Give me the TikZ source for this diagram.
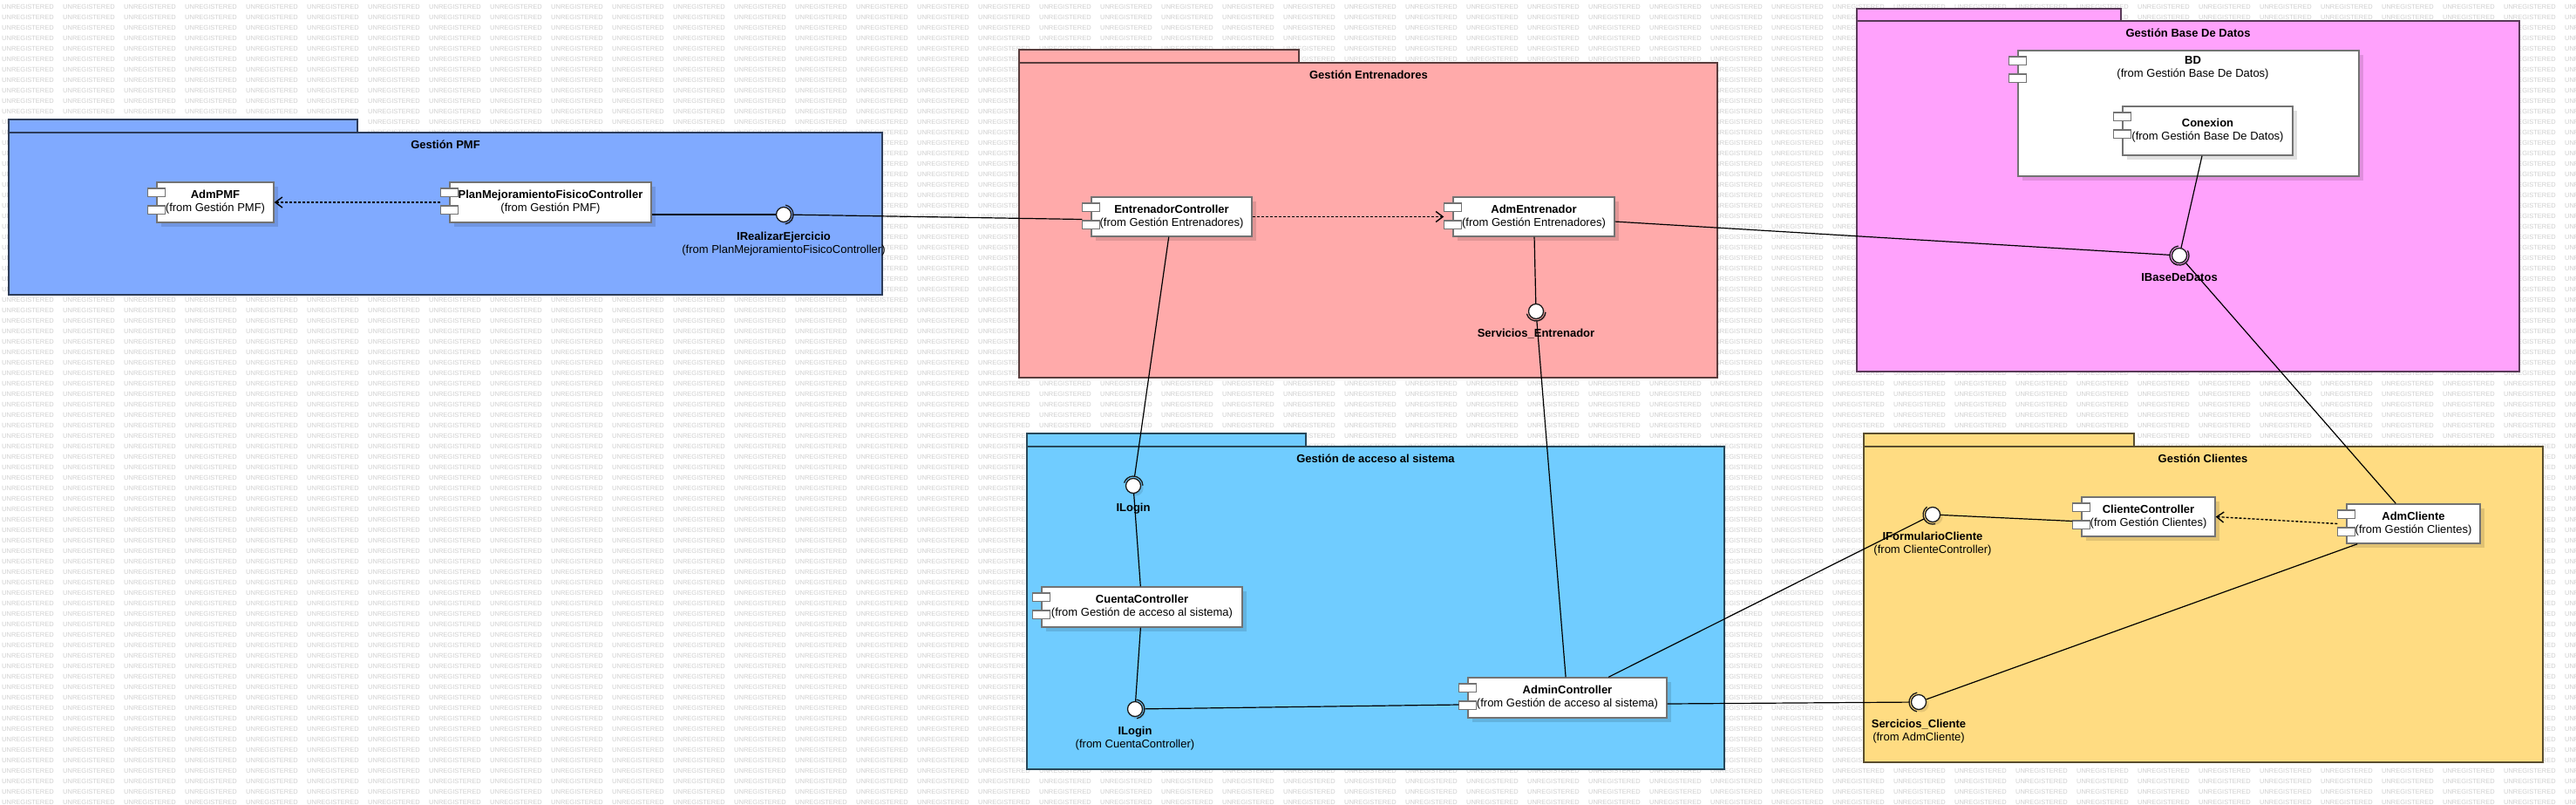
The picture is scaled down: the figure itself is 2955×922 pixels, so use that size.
\documentclass[tikz,border=0pt]{standalone}
\usepackage{fontspec}
\setmainfont{Liberation Sans}
\usetikzlibrary{positioning,calc,arrows.meta,shadows}
\definecolor{PmfBlue}{RGB}{128,170,255}
\definecolor{EntRed}{RGB}{255,170,170}
\definecolor{BdPink}{RGB}{255,162,252}
\definecolor{AccBlue}{RGB}{112,204,255}
\definecolor{CliYellow}{RGB}{255,220,130}
\definecolor{WmGray}{RGB}{208,208,208}

\tikzset{
  pkg/.style={fill=#1, draw=#1!35!black, line width=1.6pt},
  pkgname/.style={font=\bfseries\fontsize{13}{15}\selectfont, inner sep=0pt},
  comp/.style={draw=black!55, fill=white, line width=1.4pt, inner sep=0pt,
    align=center, font=\fontsize{13}{15}\selectfont,
    drop shadow={shadow xshift=5pt, shadow yshift=-5pt, fill=black, opacity=0.12}},
  port/.style={draw=black!55, fill=white, line width=1.4pt},
  iface/.style={circle, draw=black!90, fill=white, line width=1.3pt,
    minimum size=17pt, inner sep=0pt,
    drop shadow={shadow xshift=3pt, shadow yshift=-3pt, fill=black, opacity=0.1}},
  socket/.style={draw=black!90, line width=1.3pt},
  ilbl/.style={align=center, inner sep=0pt, font=\fontsize{13}{15}\selectfont},
  conn/.style={line width=1.2pt},
  dep/.style={line width=1.4pt, dash pattern=on 3pt off 2pt,
    -{Straight Barb[length=8pt,width=12pt]}},
  wm/.style={text=WmGray, font=\fontsize{7.5}{8}\selectfont, inner sep=0pt}
}

% socket arc of a required interface, turned towards the user
\newcommand{\reqsocket}[2]{%
  \draw[socket] let \p1=($(#2)-(#1)$), \n1={atan2(\y1,\x1)} in
    ($(#1)+(\n1-80:11pt)$) arc[start angle=\n1-80, end angle=\n1+80, radius=11pt];}
\newcommand{\wmrow}{\foreach \k in {1,...,43}{\makebox[70pt][l]{UNREGISTERED}}}

\begin{document}
\begin{tikzpicture}[x=1pt, y=-1pt]
  \useasboundingbox (0,0) rectangle (2955,922);
  \fill[white] (0,0) rectangle (2955,922);

  % Watermark
  \foreach \y in {8,20,...,920}
    \node[wm, anchor=west] at (2,\y) {\wmrow};

  % Packages
  \draw[pkg=PmfBlue] (10,137) rectangle (410,152);
  \draw[pkg=PmfBlue] (10,152) rectangle (1012,338);
  \node[pkgname] (pmflbl) at (511,166) {Gestión PMF};

  \draw[pkg=EntRed] (1169,57) rectangle (1490,72);
  \draw[pkg=EntRed] (1169,72) rectangle (1970,433);
  \node[pkgname] (entlbl) at (1570,86) {Gestión Entrenadores};

  \draw[pkg=BdPink] (2130,10) rectangle (2433,24);
  \draw[pkg=BdPink] (2130,24) rectangle (2890,426);
  \node[pkgname] (bdplbl) at (2510,38) {Gestión Base De Datos};

  \draw[pkg=AccBlue] (1178,497) rectangle (1498,512);
  \draw[pkg=AccBlue] (1178,512) rectangle (1978,882);
  \node[pkgname] (acclbl) at (1578,526) {Gestión de acceso al sistema};

  \draw[pkg=CliYellow] (2138,497) rectangle (2448,512);
  \draw[pkg=CliYellow] (2138,512) rectangle (2917,874);
  \node[pkgname] (clilbl) at (2527,526) {Gestión Clientes};

  % Components
  \node[comp, minimum width=134pt, minimum height=46pt] (admpmf) at (247,232)
    {\textbf{AdmPMF}\\(from Gestión PMF)};
  \node[comp, minimum width=231pt, minimum height=46pt] (pmfc) at (631.5,232)
    {\textbf{PlanMejoramientoFisicoController}\\(from Gestión PMF)};
  \node[comp, minimum width=184pt, minimum height=45pt] (ec) at (1344,248.5)
    {\textbf{EntrenadorController}\\(from Gestión Entrenadores)};
  \node[comp, minimum width=185pt, minimum height=45pt] (admen) at (1759.5,248.5)
    {\textbf{AdmEntrenador}\\(from Gestión Entrenadores)};
  \node[comp, minimum width=391pt, minimum height=144pt] (bd) at (2510.5,130) {};
  \node[ilbl, anchor=north] (bdlbl) at ($(bd.north)+(5,7)$)
    {\textbf{BD}\\(from Gestión Base De Datos)};
  \node[comp, minimum width=195pt, minimum height=56pt] (conexion) at (2532.5,150)
    {\textbf{Conexion}\\(from Gestión Base De Datos)};
  \node[comp, minimum width=230pt, minimum height=46pt] (cuenta) at (1310,696)
    {\textbf{CuentaController}\\(from Gestión de acceso al sistema)};
  \node[comp, minimum width=228pt, minimum height=46pt] (adminc) at (1798,800)
    {\textbf{AdminController}\\(from Gestión de acceso al sistema)};
  \node[comp, minimum width=153pt, minimum height=45pt] (cc) at (2464.5,592.5)
    {\textbf{ClienteController}\\(from Gestión Clientes)};
  \node[comp, minimum width=153pt, minimum height=45pt] (admcli) at (2768.5,600.5)
    {\textbf{AdmCliente}\\(from Gestión Clientes)};

  % Component ports
  \foreach \c in {admpmf,pmfc,ec,admen,bd,conexion,cuenta,adminc,cc,admcli}{
    \draw[port] ($(\c.north west)+(-10,7.5)$) rectangle ++(20,9.5);
    \draw[port] ($(\c.north west)+(-10,27.5)$) rectangle ++(20,9.5);
  }

  % Interfaces
  \node[iface] (irealizar) at (899,246) {};
  \node[iface] (servent) at (1762,357) {};
  \node[iface] (ibd) at (2500,293) {};
  \node[iface] (ilogina) at (1300,557) {};
  \node[iface] (iloginb) at (1302,813) {};
  \node[iface] (iform) at (2217,590) {};
  \node[iface] (sercli) at (2201,805) {};

  \node[ilbl, below=11pt of irealizar] (irealizarlbl)
    {\textbf{IRealizarEjercicio}\\(from PlanMejoramientoFisicoController)};
  \node[ilbl, below=11pt of servent] (serventlbl) {\textbf{Servicios\_Entrenador}};
  \node[ilbl, below=11pt of ibd] (ibdlbl) {\textbf{IBaseDeDatos}};
  \node[ilbl, below=11pt of ilogina] (iloginalbl) {\textbf{ILogin}};
  \node[ilbl, below=11pt of iloginb] (iloginblbl)
    {\textbf{ILogin}\\(from CuentaController)};
  \node[ilbl, below=11pt of iform] (iformlbl)
    {\textbf{IFormularioCliente}\\(from ClienteController)};
  \node[ilbl, below=11pt of sercli] (sercliLbl)
    {\textbf{Sercicios\_Cliente}\\(from AdmCliente)};

  % Gestion PMF links
  \draw[dep] ($(pmfc.west)+(-10,0)$) -- (admpmf.east);
  \draw[conn] (pmfc.east |- irealizar) -- (irealizar);
  \draw[conn, shorten <=2pt] (irealizar) -- ($(ec.west)+(-10,3)$);

  % Gestion Entrenadores links
  \draw[dep] (ec.east) -- ($(admen.west)+(-10,0)$);
  \draw[conn] (admen) -- (servent);
  \draw[conn, shorten >=2pt] (admen) -- (ibd);
  \draw[conn, shorten >=2pt] (ec) -- (ilogina);
  \draw[conn, shorten <=2pt] (servent) -- (adminc);

  % Gestion Base De Datos links
  \draw[conn] (conexion) -- (ibd);
  \draw[conn, shorten <=2pt] (ibd) -- (admcli);

  % Gestion de acceso links
  \draw[conn] (ilogina) -- (cuenta);
  \draw[conn] (cuenta) -- (iloginb);
  \draw[conn, shorten <=2pt] (iloginb) -- ($(adminc.west)+(-10,8)$);
  \draw[conn, shorten >=2pt] (adminc) -- (iform);
  \draw[conn, shorten >=2pt] ($(adminc.east)+(0,7)$) -- (sercli);

  % Gestion Clientes links
  \draw[conn] (iform) -- ($(cc.west)+(-10,5)$);
  \draw[dep] ($(admcli.west)+(-10,0)$) -- (cc.east);
  \draw[conn] (admcli) -- (sercli);

  % Sockets
  \reqsocket{irealizar}{ec}
  \reqsocket{servent}{adminc}
  \reqsocket{ibd}{admen}
  \reqsocket{ibd}{admcli}
  \reqsocket{ilogina}{ec}
  \reqsocket{iloginb}{adminc}
  \reqsocket{iform}{adminc}
  \reqsocket{sercli}{adminc}
\end{tikzpicture}
\end{document}
